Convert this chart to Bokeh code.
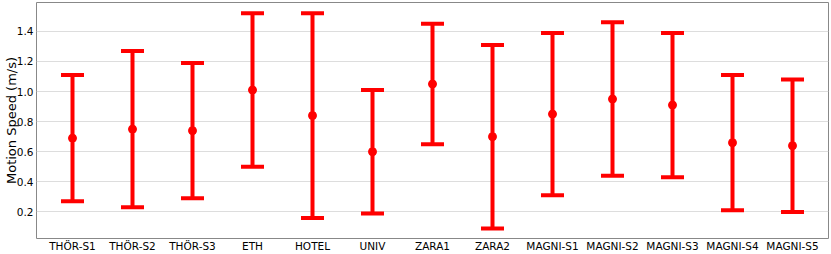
from bokeh.plotting import figure
from bokeh.models import ColumnDataSource, Whisker, TeeHead, FixedTicker, Range1d, PrintfTickFormatter
from bokeh.embed import file_html
from bokeh.resources import INLINE

datasets = ["THÖR-S1", "THÖR-S2", "THÖR-S3", "ETH", "HOTEL", "UNIV", "ZARA1", "ZARA2",
            "MAGNI-S1", "MAGNI-S2", "MAGNI-S3", "MAGNI-S4", "MAGNI-S5"]
mean_speed = [0.69, 0.75, 0.74, 1.01, 0.84, 0.60, 1.05, 0.70, 0.85, 0.95, 0.91, 0.66, 0.64]
lower = [0.27, 0.23, 0.29, 0.50, 0.16, 0.19, 0.65, 0.09, 0.31, 0.44, 0.43, 0.21, 0.20]
upper = [1.11, 1.27, 1.19, 1.52, 1.52, 1.01, 1.45, 1.31, 1.39, 1.46, 1.39, 1.11, 1.08]
y_ticks = [0.2, 0.4, 0.6, 0.8, 1.0, 1.2, 1.4]

xs = list(range(len(datasets)))
src = ColumnDataSource(dict(x=xs, mean=mean_speed, lo=lower, hi=upper))

p = figure(width=831, height=254, output_backend="svg", toolbar_location=None,
           x_range=Range1d(-0.6, len(datasets) - 0.4), y_range=Range1d(0.023, 1.592),
           min_border_top=2, min_border_right=3, min_border_left=0, min_border_bottom=0)

w = Whisker(source=src, base="x", upper="hi", lower="lo", dimension="height",
            line_color="#ff0000", line_width=4,
            upper_head=TeeHead(size=23, line_color="#ff0000", line_width=4),
            lower_head=TeeHead(size=23, line_color="#ff0000", line_width=4))
p.add_layout(w)
p.scatter("x", "mean", source=src, size=8, color="#ff0000")

p.xaxis.ticker = FixedTicker(ticks=xs)
p.xaxis.major_label_overrides = {i: n for i, n in enumerate(datasets)}
p.yaxis.ticker = FixedTicker(ticks=y_ticks)
p.yaxis.formatter = PrintfTickFormatter(format="%.1f")
p.yaxis.axis_label = "Motion Speed (m/s)"

for ax in (p.xaxis[0], p.yaxis[0]):
    ax.major_label_text_font = "DejaVu Sans"
    ax.major_label_text_color = "#000000"
    ax.major_tick_line_color = None
    ax.minor_tick_line_color = None
    ax.major_tick_out = 0
    ax.major_tick_in = 0
    ax.minor_tick_out = 0
    ax.minor_tick_in = 0
    ax.axis_line_color = None
p.xaxis.major_label_text_font_size = "10.5px"
p.yaxis.major_label_text_font_size = "10.5px"
p.xaxis.major_label_standoff = 1
p.yaxis.major_label_standoff = 3
p.yaxis.axis_label_text_font = "DejaVu Sans"
p.yaxis.axis_label_text_font_size = "13px"
p.yaxis.axis_label_text_font_style = "normal"
p.yaxis.axis_label_text_color = "#000000"
p.yaxis.axis_label_standoff = -5

p.xgrid.grid_line_color = None
p.ygrid.grid_line_color = "#dddddd"
p.ygrid.grid_line_width = 1
p.outline_line_color = "#888888"
p.outline_line_width = 1

open("out.html", "w").write(file_html(p, INLINE))
